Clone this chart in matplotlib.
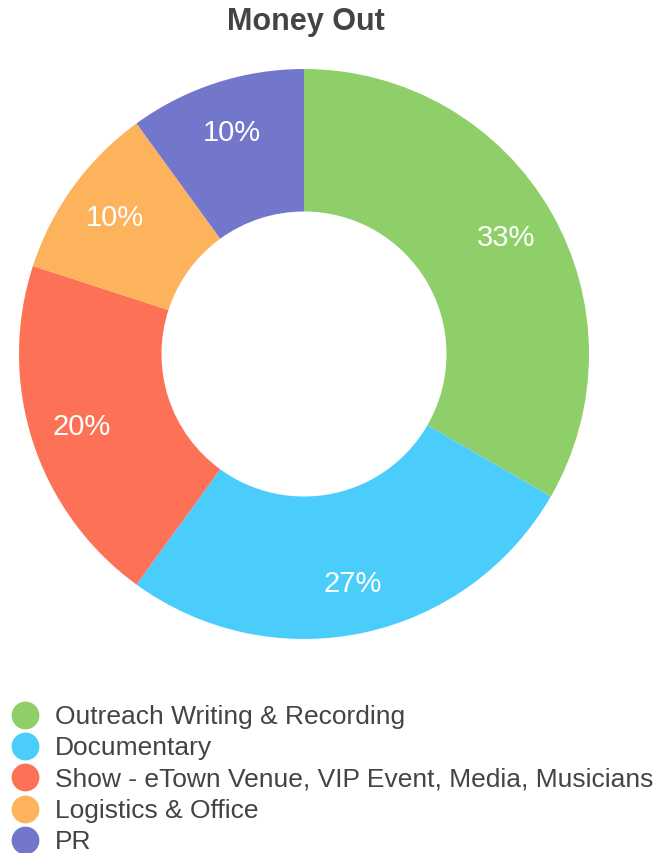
import matplotlib.pyplot as plt

# data
labels = ["Outreach Writing & Recording", "Documentary",
          "Show - eTown Venue, VIP Event, Media, Musicians",
          "Logistics & Office", "PR"]
values = [50000, 40000, 30000, 15000, 15000]
colors = ["#8ecf6a", "#4bcdfc", "#fd7257", "#fdb35c", "#7277cb"]

plt.rcParams['font.family'] = ['Liberation Sans', 'DejaVu Sans']

W, H = 661, 854
fig = plt.figure(figsize=(W / 100, H / 100), dpi=100)

# pie axes placed in pixels: centre (304, 355), radius 285
cx, cy, r = 304, 355, 285
ax = fig.add_axes([(cx - r) / W, (H - cy - r) / H, 2 * r / W, 2 * r / H])
ax.pie(values, colors=colors, startangle=90, counterclock=False,
       radius=1, wedgeprops=dict(width=0.5, linewidth=0),
       autopct=lambda p: f"{p:.0f}%", pctdistance=0.82,
       textprops=dict(color="white", fontsize=21))
ax.set_xlim(-1, 1)
ax.set_ylim(-1, 1)
ax.set_aspect("equal")
ax.axis("off")

fig.text(306 / W, 1 - 22 / H, "Money Out", ha="center", va="center",
         fontsize=22, fontweight="bold", color="#444444")

# legend drawn in pixel coordinates
lax = fig.add_axes([0, 0, 1, 1])
lax.set_xlim(0, W)
lax.set_ylim(H, 0)
lax.axis("off")
y0, dy = 716, 31.2
for i, (lab, col) in enumerate(zip(labels, colors)):
    y = y0 + i * dy
    lax.scatter([25], [y], s=400, color=col, linewidths=0)
    lax.text(55, y + 1, lab, va="center", ha="left", fontsize=19, color="#444444")

fig.savefig("out.png", dpi=100)
